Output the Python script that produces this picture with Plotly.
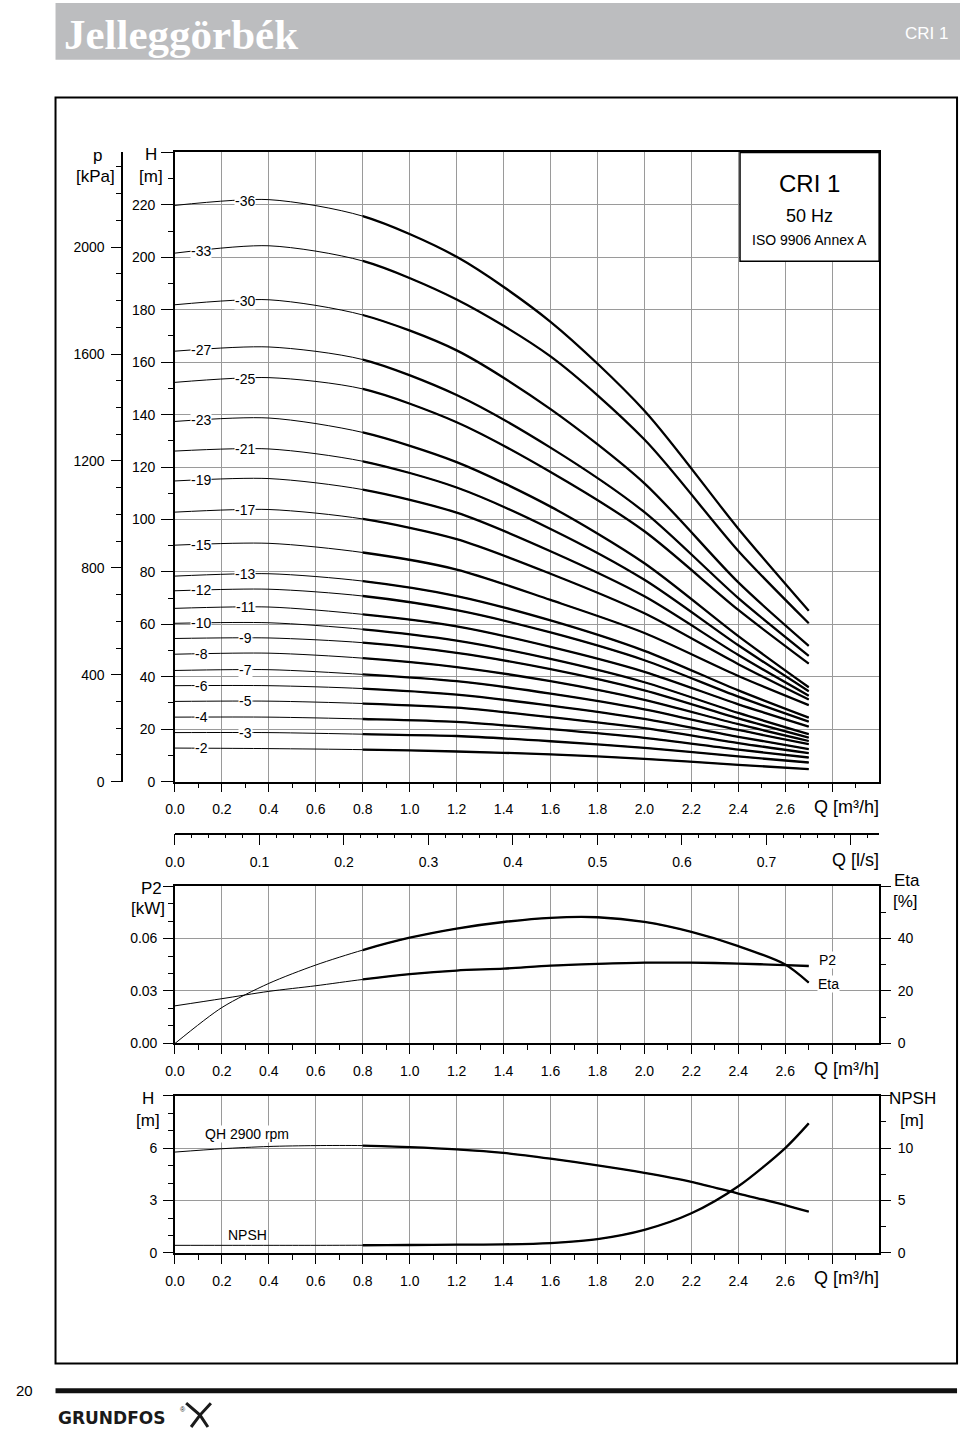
import numpy as np
import plotly.graph_objects as go

# ---------------- data ----------------
Q_MAIN = [0.0, 0.4, 0.8, 1.2, 1.6, 2.0, 2.4, 2.7]          # m3/h
STAGE_LABELS = ["-36", "-33", "-30", "-27", "-25", "-23", "-21", "-19", "-17", "-15",
                "-13", "-12", "-11", "-10", "-9", "-8", "-7", "-6", "-5", "-4", "-3", "-2"]
H_36 = [219.8, 222.0, 215.7, 200.2, 175.4, 141.5, 96.5, 65.2]
H_33 = [201.6, 204.4, 198.6, 183.9, 162.2, 130.5, 88.0, 60.4]
H_30 = [181.9, 183.8, 178.0, 164.5, 142.1, 113.8, 76.0, 51.8]
H_27 = [164.2, 165.8, 161.0, 147.5, 127.4, 102.8, 70.0, 48.0]
H_25 = [152.3, 154.1, 149.8, 137.1, 118.1, 95.5, 65.5, 45.0]
H_23 = [137.4, 138.7, 133.2, 121.9, 104.9, 83.3, 55.5, 36.0]
H_21 = [126.1, 126.9, 122.2, 112.2, 96.4, 77.0, 52.0, 34.5]
H_19 = [114.7, 115.6, 111.4, 102.6, 87.9, 70.7, 48.3, 32.8]
H_17 = [102.8, 103.8, 100.2, 92.5, 79.3, 64.2, 44.8, 31.3]
H_15 = [90.2, 90.9, 87.4, 80.9, 69.3, 56.7, 40.3, 29.2]
H_13 = [78.4, 79.3, 76.5, 70.8, 61.5, 49.9, 34.8, 24.4]
H_12 = [72.8, 73.4, 70.8, 65.4, 56.9, 46.3, 32.4, 22.9]
H_11 = [66.1, 66.6, 63.8, 59.2, 51.4, 41.9, 29.5, 21.0]
H_10 = [60.4, 60.6, 58.1, 53.8, 46.8, 37.9, 26.2, 18.1]
H_9 = [54.6, 54.8, 53.0, 49.1, 42.9, 34.8, 24.1, 16.8]
H_8 = [48.6, 49.0, 47.1, 43.7, 38.3, 31.2, 21.9, 15.5]
H_7 = [42.4, 42.7, 40.9, 38.3, 33.6, 27.6, 19.7, 14.3]
H_6 = [36.6, 36.6, 35.5, 33.2, 29.0, 23.9, 17.1, 12.4]
H_5 = [30.6, 30.7, 29.8, 28.2, 24.6, 20.4, 14.7, 10.9]
H_4 = [24.6, 24.6, 23.9, 22.8, 20.0, 16.7, 12.2, 9.2]
H_3 = [18.7, 18.7, 18.1, 17.4, 15.4, 12.9, 9.6, 7.3]
H_2 = [12.8, 12.6, 12.2, 11.5, 10.4, 8.7, 6.4, 4.8]

Q_LOW = [0.0, 0.2, 0.4, 0.6, 0.8, 1.0, 1.2, 1.4, 1.6, 1.8, 2.0, 2.2, 2.4, 2.6, 2.7]
P2_KW = [0.0215, 0.0256, 0.0298, 0.0330, 0.0366, 0.0396, 0.0417, 0.0428, 0.0445,
         0.0455, 0.0462, 0.0462, 0.0457, 0.0448, 0.0443]
ETA_PCT = [0.0, 13.7, 22.9, 29.9, 35.6, 40.3, 43.8, 46.3, 47.9, 48.1, 46.3, 42.5,
           37.1, 30.1, 23.2]
QH_M = [5.77, 5.96, 6.09, 6.14, 6.14, 6.05, 5.92, 5.72, 5.39, 5.01, 4.58, 4.07,
        3.40, 2.74, 2.36]
NPSH_M = [0.73, 0.73, 0.73, 0.73, 0.74, 0.76, 0.80, 0.82, 0.95, 1.32, 2.20, 3.78,
          6.36, 10.0, 12.35]

X_TICKS = [0.0, 0.2, 0.4, 0.6, 0.8, 1.0, 1.2, 1.4, 1.6, 1.8, 2.0, 2.2, 2.4, 2.6, 2.8]
X_TICK_TEXT = ["0.0", "0.2", "0.4", "0.6", "0.8", "1.0", "1.2", "1.4", "1.6", "1.8",
               "2.0", "2.2", "2.4", "2.6", ""]
LS_TICKS = [0.0, 0.1, 0.2, 0.3, 0.4, 0.5, 0.6, 0.7, 0.8]
LS_TICK_TEXT = ["0.0", "0.1", "0.2", "0.3", "0.4", "0.5", "0.6", "0.7", ""]
Q_THICK_START = 0.8   # curves are drawn bold from this flow on

# ---------------- layout helpers ----------------
W, HP = 960, 1439


def px(x):
    return x / W


def py(y):
    return 1 - y / HP


FONT = "Liberation Sans, Arial, Helvetica, sans-serif"
GRID = "#9a9a9a"
X_LEFT, X_RIGHT = 166.7, 878.3
XD = [px(X_LEFT), px(X_RIGHT)]
Q_MAX = 3.0
H_MAX = 240.0
RHO_G = 9.81
XD_THICK = [px(X_LEFT + (X_RIGHT - X_LEFT) * Q_THICK_START / Q_MAX), px(X_RIGHT)]

D_MAIN = [py(786), py(153.3)]
D_MID = [py(1049.3), py(891)]
D_BOT = [py(1260), py(1101.7)]


def axis(**kw):
    d = dict(showline=True, linecolor="black", linewidth=1.5, ticks="outside",
             tickcolor="black", tickwidth=1.2,
             tickfont=dict(family=FONT, size=14, color="black"),
             zeroline=False, showgrid=False, fixedrange=True, tickmode="array")
    d.update(kw)
    return d


def hidden(**kw):
    d = dict(visible=False, showgrid=False, zeroline=False, fixedrange=True)
    d.update(kw)
    return d


def minor(vals, ln=5):
    return dict(tickmode="array", tickvals=vals, ticklen=ln, ticks="outside",
                tickcolor="black", tickwidth=1, showgrid=False)


x_minor = [round(v, 2) for v in np.arange(0.1, 3.0, 0.2)]
ls_minor = [round(v, 2) for v in np.arange(0.02, 0.84, 0.02) if abs(v * 10 - round(v * 10)) > 1e-6]

fig = go.Figure()


def add_curve(xs, ys, thin_axes, thick_axes):
    fig.add_trace(go.Scatter(x=xs, y=ys, mode="lines", xaxis=thin_axes[0], yaxis=thin_axes[1],
                             line=dict(color="black", width=1, shape="spline", smoothing=0.8),
                             hoverinfo="skip", showlegend=False, cliponaxis=True))
    fig.add_trace(go.Scatter(x=xs, y=ys, mode="lines", xaxis=thick_axes[0], yaxis=thick_axes[1],
                             line=dict(color="black", width=2.3, shape="spline", smoothing=0.8),
                             hoverinfo="skip", showlegend=False, cliponaxis=True))


# ---------------- main chart curves ----------------
curves = [H_36, H_33, H_30, H_27, H_25, H_23, H_21, H_19, H_17, H_15, H_13, H_12,
          H_11, H_10, H_9, H_8, H_7, H_6, H_5, H_4, H_3, H_2]
annotations = []
for i, (lab, hv) in enumerate(zip(STAGE_LABELS, curves)):
    add_curve(Q_MAIN, hv, ("x", "y"), ("x8", "y"))
    ql = 0.30 if i % 2 == 0 else 0.112
    hl = float(np.interp(ql, Q_MAIN, hv))
    annotations.append(dict(x=ql, y=hl, xref="x", yref="y", text=lab, showarrow=False,
                            font=dict(family=FONT, size=14, color="black"),
                            bgcolor="white", borderpad=0, xanchor="center", yanchor="middle"))

# dummy traces to activate the extra axes
fig.add_trace(go.Scatter(x=[0], y=[0], xaxis="x", yaxis="y2", mode="markers",
                         marker=dict(opacity=0), hoverinfo="skip", showlegend=False))
fig.add_trace(go.Scatter(x=[0], y=[0], xaxis="x5", yaxis="y3", mode="markers",
                         marker=dict(opacity=0), hoverinfo="skip", showlegend=False))

# ---------------- P2 / Eta ----------------
add_curve(Q_LOW, P2_KW, ("x3", "y3"), ("x9", "y3"))
add_curve(Q_LOW, ETA_PCT, ("x3", "y4"), ("x9", "y10"))

# ---------------- QH / NPSH ----------------
add_curve(Q_LOW, QH_M, ("x6", "y6"), ("x11", "y6"))
add_curve(Q_LOW, NPSH_M, ("x6", "y7"), ("x11", "y12"))

# ---------------- axes ----------------
h_ticks = list(range(0, 241, 20))
h_text = [str(v) for v in h_ticks[:-1]] + [""]
p_ticks = [0, 400, 800, 1200, 1600, 2000]
p_minor = [v for v in range(100, 2400, 100) if v % 400 != 0]

layout_axes = dict(
    xaxis=axis(domain=XD, range=[0, Q_MAX], anchor="y", mirror=True, tickvals=X_TICKS,
               ticktext=X_TICK_TEXT, ticklen=9, showgrid=True, gridcolor=GRID, gridwidth=1,
               minor=minor(x_minor), ticklabelstandoff=5),
    yaxis=axis(domain=D_MAIN, range=[0, H_MAX], anchor="x", mirror=True,
               tickvals=h_ticks, ticktext=h_text, ticklen=12, showgrid=True, gridcolor=GRID,
               gridwidth=1, minor=minor(list(range(10, 240, 20))), ticklabelstandoff=3),
    yaxis2=axis(overlaying="y", anchor="free", position=px(113.3), side="left",
                range=[0, H_MAX * RHO_G], tickvals=p_ticks, ticktext=[str(v) for v in p_ticks],
                ticklen=10, minor=minor(p_minor), ticklabelstandoff=4),
    xaxis3=axis(domain=XD, range=[0, Q_MAX], anchor="y3", mirror=True, tickvals=X_TICKS,
                ticktext=X_TICK_TEXT, ticklen=9, showgrid=True, gridcolor=GRID, gridwidth=1,
                minor=minor(x_minor), ticklabelstandoff=5),
    yaxis3=axis(domain=D_MID, range=[0, 0.09], anchor="x3",
                tickvals=[0, 0.03, 0.06, 0.09], ticktext=["0.00", "0.03", "0.06", ""],
                ticklen=10, showgrid=True, gridcolor=GRID, gridwidth=1,
                minor=minor([0.01, 0.02, 0.04, 0.05, 0.07, 0.08]), ticklabelstandoff=3),
    yaxis4=axis(overlaying="y3", anchor="x3", side="right", range=[0, 60],
                tickvals=[0, 20, 40, 60], ticktext=["0", "20", "40", ""], ticklen=10,
                minor=minor([10, 30, 50]), ticklabelstandoff=4),
    xaxis5=axis(overlaying="x3", anchor="free", position=py(838.3), side="bottom",
                range=[0, Q_MAX / 3.6], tickvals=LS_TICKS, ticktext=LS_TICK_TEXT, ticklen=11,
                minor=minor(ls_minor, 4), ticklabelstandoff=5),
    xaxis6=axis(domain=XD, range=[0, Q_MAX], anchor="y6", mirror=True, tickvals=X_TICKS,
                ticktext=X_TICK_TEXT, ticklen=9, showgrid=True, gridcolor=GRID, gridwidth=1,
                minor=minor(x_minor), ticklabelstandoff=5),
    yaxis6=axis(domain=D_BOT, range=[0, 9], anchor="x6",
                tickvals=[0, 3, 6, 9], ticktext=["0", "3", "6", ""], ticklen=10,
                showgrid=True, gridcolor=GRID, gridwidth=1,
                minor=minor([1, 2, 4, 5, 7, 8]), ticklabelstandoff=3),
    yaxis7=axis(overlaying="y6", anchor="x6", side="right", range=[0, 15],
                tickvals=[0, 5, 10, 15], ticktext=["0", "5", "10", ""], ticklen=10,
                minor=minor([2.5, 7.5, 12.5]), ticklabelstandoff=4),
    # hidden axes that clip the bold part of every curve (Q >= 0.8)
    xaxis8=hidden(domain=XD_THICK, range=[Q_THICK_START, Q_MAX], anchor="y"),
    xaxis9=hidden(domain=XD_THICK, range=[Q_THICK_START, Q_MAX], anchor="y3"),
    yaxis10=hidden(domain=D_MID, range=[0, 60], anchor="x9"),
    xaxis11=hidden(domain=XD_THICK, range=[Q_THICK_START, Q_MAX], anchor="y6"),
    yaxis12=hidden(domain=D_BOT, range=[0, 15], anchor="x11"),
)


def ptext(x, y, text, size=17, **kw):
    d = dict(x=px(x), y=py(y), xref="paper", yref="paper", text=text, showarrow=False,
             font=dict(family=FONT, size=size, color="black"), xanchor="center",
             yanchor="middle")
    d.update(kw)
    return d


annotations += [
    ptext(88.3, 156, "p"), ptext(86.7, 177, "[kPa]"),
    ptext(142.5, 155, "H"), ptext(142.3, 177, "[m]"),
    ptext(808, 184.3, "CRI 1", 24), ptext(808, 217.3, "50 Hz", 18),
    ptext(808, 241.7, "ISO 9906 Annex A", 14),
    ptext(844.8, 811.7, "Q [m³/h]", 18),
    ptext(854.5, 865, "Q [l/s]", 18),
    ptext(143.3, 893.3, "P2"), ptext(139.7, 914, "[kW]"),
    ptext(906, 885, "Eta"), ptext(905, 906.7, "[%]"),
    ptext(826, 965.7, "P2", 14, bgcolor="white", borderpad=0),
    ptext(826.7, 990, "Eta", 14, bgcolor="white", borderpad=0),
    ptext(844.8, 1075, "Q [m³/h]", 18),
    ptext(139.3, 1105, "H"), ptext(139.3, 1126.7, "[m]"),
    ptext(911.7, 1105, "NPSH"), ptext(911.7, 1126.7, "[m]"),
    ptext(239, 1140.7, "QH 2900 rpm", 14, bgcolor="white", borderpad=0),
    ptext(240, 1241.7, "NPSH", 14, bgcolor="white", borderpad=0),
    ptext(844.8, 1285, "Q [m³/h]", 18),
    # header
    dict(x=px(53), y=py(35), xref="paper", yref="paper", text="<b>Jelleggörbék</b>",
         showarrow=False, xanchor="left", yanchor="middle",
         font=dict(family="Liberation Serif, DejaVu Serif, serif", size=43, color="white")),
    dict(x=px(950), y=py(34), xref="paper", yref="paper", text="CRI 1", showarrow=False,
         xanchor="right", yanchor="middle",
         font=dict(family="Liberation Sans Narrow, Liberation Sans, Arial", size=17,
                   color="white")),
    # footer
    dict(x=px(4), y=py(1398.5), xref="paper", yref="paper", text="20", showarrow=False,
         xanchor="left", yanchor="middle",
         font=dict(family="Liberation Sans Narrow, Liberation Sans, Arial", size=15,
                   color="black")),
    dict(x=px(46), y=py(1426), xref="paper", yref="paper", text="<b>GRUNDFOS</b>",
         showarrow=False, xanchor="left", yanchor="middle",
         font=dict(family="DejaVu Sans, Arial", size=17, color="#1a1a1a")),
    dict(x=px(170), y=py(1417), xref="paper", yref="paper", text="®", showarrow=False,
         xanchor="left", yanchor="middle", font=dict(family=FONT, size=7, color="#1a1a1a")),
]


def rect(x0, y0, x1, y1, **kw):
    d = dict(type="rect", xref="paper", yref="paper", x0=px(x0), x1=px(x1), y0=py(y1),
             y1=py(y0), layer="above")
    d.update(kw)
    return d


def path(pts):
    s = ""
    for k, (a, b) in enumerate(pts):
        s += ("M " if k == 0 else " L ") + f"{px(a):.5f},{py(b):.5f}"
    return s


shapes = [
    rect(46, 3, 960, 60, fillcolor="#bcbdbf", line=dict(width=0), layer="below"),
    rect(46, 98, 957, 1371, line=dict(color="black", width=2)),
    rect(737.7, 153.3, 878.3, 262.7, fillcolor="white", line=dict(color="black", width=1.5)),
    rect(46, 1396, 957, 1401, fillcolor="#111111", line=dict(width=0)),
    dict(type="path", xref="paper", yref="paper",
         path=path([(178, 1411), (192, 1423), (200, 1435)]),
         line=dict(color="#1a1a1a", width=3)),
    dict(type="path", xref="paper", yref="paper",
         path=path([(203, 1411), (192, 1423), (183, 1435)]),
         line=dict(color="#1a1a1a", width=3)),
]

fig.update_layout(
    width=W, height=HP, autosize=False, margin=dict(l=0, r=0, t=0, b=0, pad=0),
    paper_bgcolor="white", plot_bgcolor="rgba(0,0,0,0)", showlegend=False, hovermode=False,
    annotations=annotations, shapes=shapes, **layout_axes,
)

POST = (
    "document.documentElement.style.margin='0';"
    "document.documentElement.style.padding='0';"
    "document.body.style.margin='0';"
    "document.body.style.padding='0';"
    "document.body.style.overflow='hidden';"
    "var gd=document.getElementById('{plot_id}');"
    "gd.style.position='absolute';gd.style.left='0px';gd.style.top='0px';"
)

fig.write_html("out.html", config={"displayModeBar": False, "responsive": False},
               post_script=POST)
